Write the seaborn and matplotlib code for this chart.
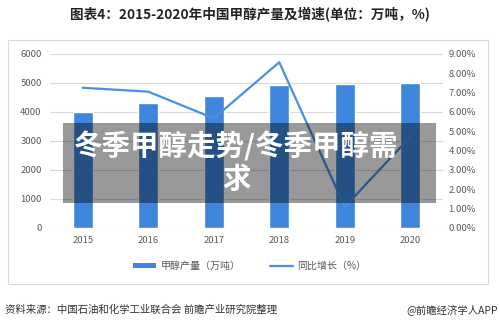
import matplotlib
matplotlib.use("Agg")
import matplotlib.pyplot as plt
import seaborn as sns
import pandas as pd
from matplotlib.patches import Patch, Rectangle
from matplotlib.lines import Line2D

years = ["2015", "2016", "2017", "2018", "2019", "2020"]
output = [4000, 4300, 4550, 4920, 4960, 4990]
growth = [7.25, 7.05, 5.67, 8.57, 1.09, 4.71]
left_ticks = [0, 1000, 2000, 3000, 4000, 5000, 6000]
right_ticks = [0, 1, 2, 3, 4, 5, 6, 7, 8, 9]

title = "图表4：2015-2020年中国甲醇产量及增速(单位：万吨，%)"
bar_label = "甲醇产量（万吨）"
line_label = "同比增长（%）"
source = "资料来源：中国石油和化学工业联合会 前瞻产业研究院整理"
credit = "@前瞻经济学人APP"
overlay = "冬季甲醇走势/冬季甲醇需\n求"

sns.set_theme(style="white")
plt.rcParams["font.family"] = ["Noto Sans CJK SC", "DejaVu Sans"]

bar_color = "#3E86DC"
line_color = "#4A90E2"
tick_color = "#595959"

df = pd.DataFrame({"year": years, "output": output, "growth": growth})

fig = plt.figure(figsize=(5, 3.27), dpi=100)
ax = fig.add_axes([0.1, 0.303, 0.786, 0.532])
sns.barplot(data=df, x="year", y="output", color=bar_color, width=0.31,
            saturation=1, ax=ax, zorder=2)
ax.set_ylim(0, 6000)
ax.set_yticks(left_ticks)
ax.set_xlim(-0.5, len(years) - 0.5)
ax.grid(axis="y", color="#D9D9D9", linewidth=0.8, zorder=0)
ax.set_axisbelow(True)
ax.set_xlabel("")
ax.set_ylabel("")
for s in ax.spines.values():
    s.set_visible(False)
ax.tick_params(axis="both", length=0, labelsize=6.8, labelcolor=tick_color, pad=6)

ax2 = ax.twinx()
sns.pointplot(data=df, x="year", y="growth", ax=ax2, color=line_color,
              markers="", linestyles="-", errorbar=None, linewidth=1.6)
ax2.set_ylim(0, 9)
ax2.set_yticks(right_ticks)
ax2.set_yticklabels([f"{t:.2f}%" for t in right_ticks])
ax2.set_xlim(-0.5, len(years) - 0.5)
ax2.set_ylabel("")
ax2.set_xlabel("")
for s in ax2.spines.values():
    s.set_visible(False)
ax2.tick_params(axis="y", length=0, labelsize=6.8, labelcolor=tick_color, pad=4)

# chart border
fig.patches.append(Rectangle((8 / 500, 1 - 284 / 327), 480 / 500, 244 / 327,
                             transform=fig.transFigure, fill=False,
                             edgecolor="#D9D9D9", linewidth=0.8))

fig.text(0.5, 1 - 15 / 327, title, ha="center", va="center",
         fontsize=9.8, fontweight="bold", color="#222222")

handles = [Patch(facecolor=bar_color, edgecolor="none"),
           Line2D([0], [0], color=line_color, linewidth=1.6)]
fig.legend(handles, [bar_label, line_label], loc="center",
           bbox_to_anchor=(0.5, 1 - 266 / 327), ncol=2, frameon=False,
           fontsize=7.2, labelcolor=tick_color, handlelength=2.3,
           handleheight=0.5, columnspacing=3.0, handletextpad=0.4)

fig.text(5 / 500, 1 - 310 / 327, source, ha="left", va="center",
         fontsize=7.5, color="#333333")
fig.text(498 / 500, 1 - 310 / 327, credit, ha="right", va="center",
         fontsize=7.5, color="#333333")

# overlay band
fig.patches.append(Rectangle((63 / 500, 1 - 203 / 327), 373 / 500, 80 / 327,
                             transform=fig.transFigure, facecolor="black",
                             alpha=0.4, edgecolor="none", zorder=10))
fig.text(236 / 500, 1 - 163 / 327, overlay, ha="center", va="center",
         fontsize=20.5, fontweight="bold", color="white", zorder=11,
         linespacing=1.2)

fig.savefig("out.png", dpi=100)
